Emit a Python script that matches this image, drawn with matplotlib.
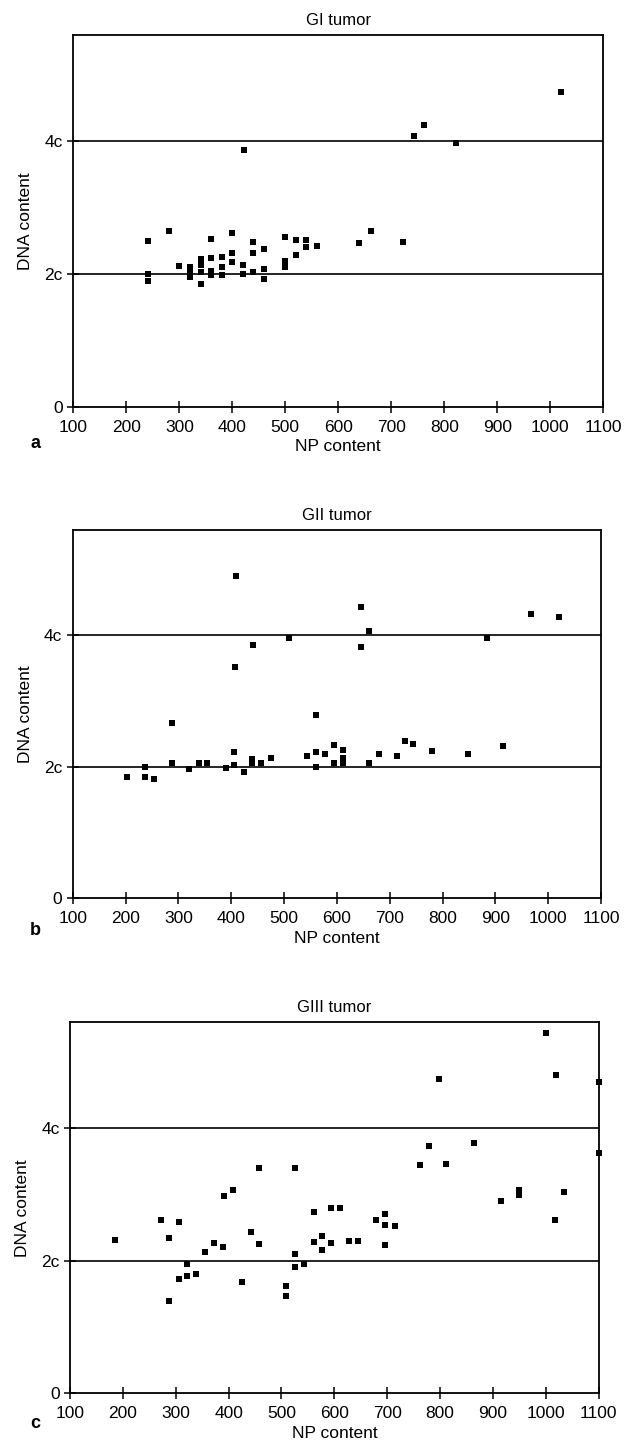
import numpy as np
import matplotlib.pyplot as plt

plt.rcParams['font.family'] = ['Liberation Sans', 'DejaVu Sans']

# GI tumor
gi_np = [240, 240, 240, 280, 300, 320, 320, 320, 340, 340, 340, 340,
         360, 360, 360, 360, 380, 380, 380, 400, 400, 400, 420, 420, 422,
         440, 440, 440, 460, 460, 460, 500, 500, 500, 520, 520, 540, 540,
         560, 640, 662, 722, 742, 762, 822, 1020]
gi_dna = [2.49, 2.00, 1.89, 2.64, 2.12, 2.10, 2.03, 1.95, 2.23, 2.13, 2.03, 1.85,
          2.53, 2.24, 2.05, 1.98, 2.26, 2.11, 1.98, 2.61, 2.32, 2.18, 2.14, 2.00, 3.86,
          2.48, 2.32, 2.03, 2.38, 2.07, 1.93, 2.56, 2.19, 2.10, 2.51, 2.28, 2.51, 2.40,
          2.42, 2.46, 2.64, 2.48, 4.08, 4.25, 3.97, 4.74]

# GII tumor
gii_np = [203, 236, 236, 253, 288, 288, 320, 339, 355, 390, 406, 406, 407, 409,
          425, 440, 440, 441, 457, 475, 509, 543, 560, 560, 560, 577, 594, 594,
          611, 611, 611, 645, 645, 661, 661, 679, 713, 729, 745, 780, 848, 884,
          915, 967, 1020]
gii_dna = [1.84, 2.00, 1.85, 1.81, 2.66, 2.06, 1.96, 2.05, 2.05, 1.98, 2.23, 2.02, 3.52, 4.90,
           1.92, 2.12, 2.06, 3.85, 2.05, 2.13, 3.95, 2.16, 2.78, 2.23, 2.00, 2.20, 2.33, 2.06,
           2.26, 2.14, 2.06, 4.43, 3.82, 4.07, 2.06, 2.19, 2.17, 2.39, 2.34, 2.24, 2.19, 3.96,
           2.32, 4.33, 4.27]

# GIII tumor
giii_np = [186, 272, 288, 288, 306, 306, 322, 322, 339, 356, 373, 390, 391, 408,
           426, 442, 458, 458, 509, 509, 526, 526, 526, 543, 561, 561, 576, 576,
           594, 594, 611, 628, 644, 678, 695, 695, 695, 714, 761, 778, 797, 812,
           864, 915, 950, 950, 1001, 1018, 1019, 1035, 1100, 1100]
giii_dna = [2.31, 2.62, 2.35, 1.40, 2.58, 1.73, 1.95, 1.77, 1.80, 2.13, 2.26, 2.21, 2.98, 3.06,
            1.68, 2.43, 3.40, 2.25, 1.62, 1.47, 3.40, 2.10, 1.90, 1.95, 2.73, 2.28, 2.38, 2.16,
            2.80, 2.26, 2.79, 2.30, 2.30, 2.61, 2.70, 2.54, 2.24, 2.53, 3.45, 3.73, 4.74, 3.46,
            3.78, 2.90, 3.06, 2.99, 5.43, 2.62, 4.80, 3.03, 4.70, 3.63]

titles = ['GI tumor', 'GII tumor', 'GIII tumor']
letters = ['a', 'b', 'c']
xticks = list(range(100, 1101, 100))
yticks = [0, 2, 4]
ytick_labels = ['0', '2c', '4c']

panels = [(gi_np, gi_dna), (gii_np, gii_dna), (giii_np, giii_dna)]
positions = [[0.117, 0.7195, 0.845, 0.2564],
             [0.116, 0.3805, 0.8425, 0.254],
             [0.1116, 0.0391, 0.8434, 0.256]]
letter_y = [0.691, 0.355, 0.015]

fig = plt.figure(figsize=(6.27, 14.5), dpi=100)

for (xs, ys), pos, title, letter, ly in zip(panels, positions, titles, letters, letter_y):
    ax = fig.add_axes(pos)
    ax.axhline(2, color='black', linewidth=1.2, zorder=1)
    ax.axhline(4, color='black', linewidth=1.2, zorder=1)
    ax.scatter(xs, ys, marker='s', s=20, color='black', linewidths=0, zorder=3, clip_on=False)
    ax.set_xlim(100, 1100)
    ax.set_ylim(0, 5.6)
    ax.set_xticks(xticks)
    ax.set_yticks(yticks)
    ax.set_yticklabels(ytick_labels)
    ax.tick_params(direction='inout', length=9, width=1.1, labelsize=12.5, pad=3)
    ax.tick_params(axis='x', pad=5)
    for sp in ax.spines.values():
        sp.set_linewidth(1.3)
    ax.set_title(title, fontsize=12, pad=7)
    ax.set_xlabel('NP content', fontsize=12.5, labelpad=3)
    ax.set_ylabel('DNA content', fontsize=12.5, labelpad=8)
    fig.text(0.048, ly, letter, fontsize=13, fontweight='bold')

fig.savefig('out.png', dpi=100)
